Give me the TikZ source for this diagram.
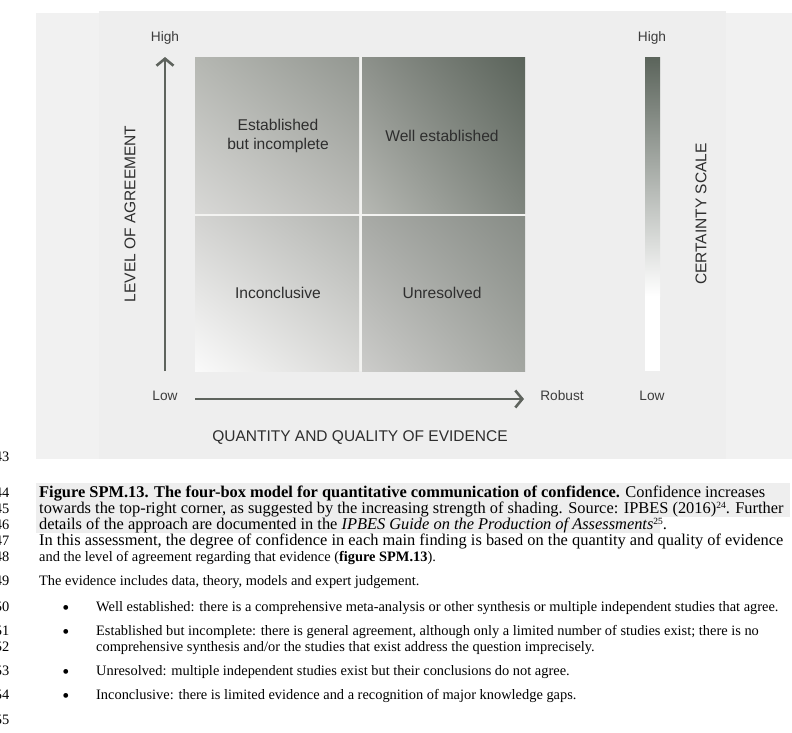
\documentclass[tikz,border=0pt]{standalone}
\usepackage{fontspec}
\setmainfont{Liberation Serif}
\newfontfamily\arialf{Liberation Sans}
\usetikzlibrary{arrows.meta,shadings}
\definecolor{axisgray}{HTML}{5E635D}
\definecolor{panelout}{HTML}{F1F1F1}
\definecolor{panelin}{HTML}{EEEEEE}
\definecolor{gapcol}{HTML}{F3F3F1}
\definecolor{labeltext}{HTML}{2E2E2E}
\definecolor{ticktext}{HTML}{3C3C3C}
\definecolor{bandcol}{HTML}{EEEEEE}
\definecolor{barA}{HTML}{5B645B}
\definecolor{barB}{HTML}{8E938D}
% quadrant corner colours
\definecolor{tlUL}{HTML}{B5B7B2}\definecolor{tlUR}{HTML}{939791}\definecolor{tlLL}{HTML}{D8D8D6}\definecolor{tlLR}{HTML}{BABBB7}
\definecolor{trUL}{HTML}{8D918B}\definecolor{trUR}{HTML}{5A635A}\definecolor{trLL}{HTML}{B6B8B3}\definecolor{trLR}{HTML}{7F857E}
\definecolor{blUL}{HTML}{D3D3D1}\definecolor{blUR}{HTML}{B3B5B1}\definecolor{blLL}{HTML}{FAFAFA}\definecolor{blLR}{HTML}{D9D9D7}
\definecolor{brUL}{HTML}{A8AAA6}\definecolor{brUR}{HTML}{878C86}\definecolor{brLL}{HTML}{CCCCCA}\definecolor{brLR}{HTML}{A3A6A1}
\newcommand{\smallsup}[1]{\raisebox{5.5pt}{\fontsize{9.5}{10}\selectfont #1}}
\begin{document}
\begin{tikzpicture}[x=1pt,y=-1pt,
  quadlabel/.style={font=\arialf\fontsize{15.6}{19}\selectfont, text=labeltext, align=center, inner sep=0pt},
  ticklabel/.style={font=\arialf\fontsize{13.7}{16}\selectfont, text=ticktext, inner sep=0pt},
  axistitle/.style={font=\arialf\fontsize{15.5}{18}\selectfont, text=labeltext, inner sep=0pt},
  axisline/.style={draw=axisgray, line width=2.6pt, -{Straight Barb[length=7pt,width=17pt]}},
  capline/.style={anchor=base west, inner sep=0pt, font=\fontsize{16.4}{18}\selectfont},
  smallline/.style={anchor=base west, inner sep=0pt, font=\fontsize{14.4}{16}\selectfont},
  linenum/.style={anchor=base east, inner sep=0pt, font=\fontsize{14.4}{16}\selectfont},
  bulletmark/.style={anchor=center, inner sep=0pt, font=\fontsize{20}{20}\selectfont}]
\useasboundingbox (0,0) rectangle (792,732);
\clip (0,0) rectangle (792,732);
\fill[white] (0,0) rectangle (792,732);
% panels
\fill[panelout] (36,13) rectangle (792,459);
\fill[panelin] (99,11) rectangle (726,459);
% quadrants
\fill[gapcol] (195,57) rectangle (525,371);
\shade[upper left=tlUL, upper right=tlUR, lower left=tlLL, lower right=tlLR] (195,57) rectangle (359,213);
\shade[upper left=trUL, upper right=trUR, lower left=trLL, lower right=trLR] (362,57) rectangle (525,213);
\shade[upper left=blUL, upper right=blUR, lower left=blLL, lower right=blLR] (195,216) rectangle (359,371);
\shade[upper left=brUL, upper right=brUR, lower left=brLL, lower right=brLR] (362,216) rectangle (525,371);
\node[quadlabel] (est) at (278,136) {Established\\but incomplete};
\node[quadlabel] (well) at (442,136) {Well established};
\node[quadlabel] (incon) at (278,293) {Inconclusive};
\node[quadlabel] (unres) at (442,293) {Unresolved};
% axes
\coordinate (vstart) at (165,371);
\coordinate (vend) at (165,57);
\coordinate (hstart) at (195,399);
\coordinate (hend) at (524,399);
\draw[axisline] (vstart) -- (vend);
\draw[axisline] (hstart) -- (hend);
\node[ticklabel] (hiL) at (165,38) {High};
\node[ticklabel] (loL) at (165,396) {Low};
\node[ticklabel] (rob) at (562,396) {Robust};
\node[axistitle] (xt) at (360,438) {QUANTITY AND QUALITY OF EVIDENCE};
\node[axistitle, rotate=90] (yt) at (130,214) {LEVEL OF AGREEMENT};
% certainty scale
\shade[top color=barA, middle color=barB, bottom color=white] (645,57) rectangle (660,296);
\fill[white] (645,295.5) rectangle (660,371);
\node[ticklabel] (hiR) at (652,38) {High};
\node[ticklabel] (loR) at (652,396) {Low};
\node[axistitle, rotate=90] (ct) at (701,214) {CERTAINTY SCALE};
% caption highlight
\fill[bandcol] (36,483) rectangle (790,517);
\fill[bandcol] (36,517) rectangle (660,533);
% line numbers
\node[linenum] (n43) at (9.5,461) {43};
\node[linenum] (n44) at (9.5,497.5) {44};
\node[linenum] (n45) at (9.5,513.5) {45};
\node[linenum] (n46) at (9.5,529.5) {46};
\node[linenum] (n47) at (9.5,545.5) {47};
\node[linenum] (n48) at (9.5,561) {48};
\node[linenum] (n49) at (9.5,585) {49};
\node[linenum] (n50) at (9.5,611) {50};
\node[linenum] (n51) at (9.5,635) {51};
\node[linenum] (n52) at (9.5,651) {52};
\node[linenum] (n53) at (9.5,675) {53};
\node[linenum] (n54) at (9.5,699) {54};
\node[linenum] (n55) at (9.5,724) {55};
% text
\node[capline] (c1) at (39,497.5) {\textbf{Figure SPM.13. The four-box model for quantitative communication of confidence.} Confidence increases};
\node[capline] (c2) at (39,513.5) {towards the top-right corner, as suggested by the increasing strength of shading. Source: IPBES (2016)\smallsup{24}. Further};
\node[capline] (c3) at (39,529.5) {details of the approach are documented in the \textit{IPBES Guide on the Production of Assessments}\smallsup{25}.};
\node[capline] (c4) at (39,545.5) {In this assessment, the degree of confidence in each main finding is based on the quantity and quality of evidence};
\node[smallline] (c5) at (39,561) {and the level of agreement regarding that evidence (\textbf{figure SPM.13}).};
\node[smallline] (c6) at (39,585) {The evidence includes data, theory, models and expert judgement.};
\node[bulletmark] (b1) at (66,609.5) {\textbullet};
\node[smallline] (t1) at (96,611) {Well established: there is a comprehensive meta-analysis or other synthesis or multiple independent studies that agree.};
\node[bulletmark] (b2) at (66,633.5) {\textbullet};
\node[smallline] (t2) at (96,635) {Established but incomplete: there is general agreement, although only a limited number of studies exist; there is no};
\node[smallline] (t2b) at (96,651) {comprehensive synthesis and/or the studies that exist address the question imprecisely.};
\node[bulletmark] (b3) at (66,673.5) {\textbullet};
\node[smallline] (t3) at (96,675) {Unresolved: multiple independent studies exist but their conclusions do not agree.};
\node[bulletmark] (b4) at (66,697.5) {\textbullet};
\node[smallline] (t4) at (96,699) {Inconclusive: there is limited evidence and a recognition of major knowledge gaps.};
\end{tikzpicture}
\end{document}
